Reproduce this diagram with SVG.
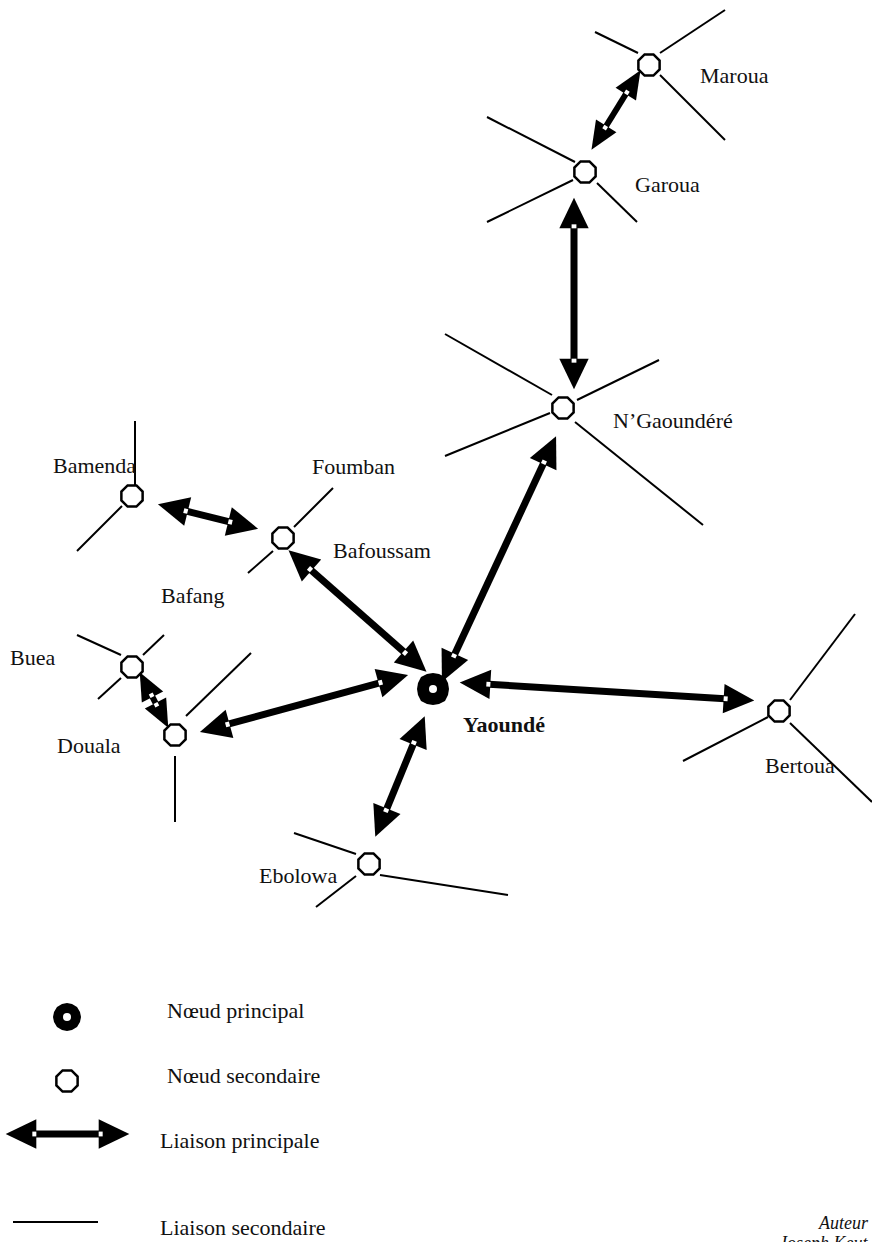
<svg xmlns="http://www.w3.org/2000/svg" width="872" height="1242" viewBox="0 0 872 1242">
<style>
.t{font-family:"Liberation Serif","Times New Roman",serif;font-size:22px;fill:#111}
.b{font-weight:bold}
.i{font-style:italic;font-size:18px}
.sl{stroke:#000;stroke-width:2;fill:none;stroke-linecap:butt}
.pl{stroke:#000;stroke-width:7;fill:none;marker-start:url(#ah);marker-end:url(#ah)}
.ps{stroke:#000;stroke-width:6;fill:none;marker-start:url(#as);marker-end:url(#as)}
.sn{fill:#fff;stroke:#000;stroke-width:2.5}
</style>
<defs>
<marker id="ah" markerUnits="userSpaceOnUse" orient="auto-start-reverse" refX="0" refY="0" markerWidth="40" markerHeight="40" viewBox="-4 -14 30 28" overflow="visible">
<path d="M-1,-11 L22,0 L-1,11 Z" fill="#000"/>
<rect x="-1" y="-1.8" width="3" height="3.6" fill="#fff"/>
</marker>
<marker id="as" markerUnits="userSpaceOnUse" orient="auto-start-reverse" refX="0" refY="0" markerWidth="40" markerHeight="40" viewBox="-4 -14 30 28" overflow="visible">
<path d="M-1,-9 L20,0 L-1,9 Z" fill="#000"/>
<rect x="-1" y="-1.6" width="3" height="3.2" fill="#fff"/>
</marker>
<polygon id="oct" points="4.40,-10.62 10.62,-4.40 10.62,4.40 4.40,10.62 -4.40,10.62 -10.62,4.40 -10.62,-4.40 -4.40,-10.62"/>
</defs>
<rect width="872" height="1242" fill="#fff"/>

<g id="connectors">
<g id="secondary-links">
<line class="sl" x1="660" y1="53" x2="725" y2="10"/>
<line class="sl" x1="595" y1="32" x2="638" y2="53"/>
<line class="sl" x1="660" y1="75" x2="725" y2="140"/>
<line class="sl" x1="487" y1="117" x2="575" y2="162"/>
<line class="sl" x1="573" y1="180" x2="487" y2="222"/>
<line class="sl" x1="597" y1="183" x2="637" y2="222"/>
<line class="sl" x1="445" y1="334" x2="552" y2="395"/>
<line class="sl" x1="577" y1="400" x2="659" y2="360"/>
<line class="sl" x1="550" y1="413" x2="445" y2="456"/>
<line class="sl" x1="575" y1="422" x2="703" y2="525"/>
<line class="sl" x1="135" y1="421" x2="135" y2="485"/>
<line class="sl" x1="122" y1="506" x2="77" y2="551"/>
<line class="sl" x1="294" y1="527" x2="333" y2="488"/>
<line class="sl" x1="273" y1="551" x2="248" y2="573"/>
<line class="sl" x1="77" y1="635" x2="121" y2="655"/>
<line class="sl" x1="143" y1="655" x2="164" y2="635"/>
<line class="sl" x1="121" y1="678" x2="98" y2="699"/>
<line class="sl" x1="186" y1="716" x2="251" y2="653"/>
<line class="sl" x1="175" y1="756" x2="175" y2="822"/>
<line class="sl" x1="790" y1="700" x2="855" y2="614"/>
<line class="sl" x1="768" y1="717" x2="683" y2="761"/>
<line class="sl" x1="790" y1="723" x2="872" y2="802"/>
<line class="sl" x1="356" y1="854" x2="294" y2="833"/>
<line class="sl" x1="356" y1="876" x2="316" y2="907"/>
<line class="sl" x1="380" y1="875" x2="508" y2="895"/>
</g>
<g id="principal-links">
<line class="ps" x1="626.5" y1="93" x2="605.5" y2="127"/>
<line class="pl" x1="574" y1="227" x2="574" y2="360"/>
<line class="pl" x1="543.7" y1="462.9" x2="454.3" y2="655.1"/>
<line class="pl" x1="310.5" y1="569.6" x2="404.5" y2="652.4"/>
<line class="pl" x1="186.4" y1="511.2" x2="229.6" y2="521.8"/>
<line class="ps" x1="151.9" y1="695.9" x2="156.1" y2="704.1"/>
<line class="pl" x1="228.2" y1="724.2" x2="379.8" y2="682.8"/>
<line class="pl" x1="489" y1="684.3" x2="725" y2="698.7"/>
<line class="pl" x1="413.6" y1="743.3" x2="386.4" y2="809.7"/>
</g>
</g>

<g id="maroua"><use href="#oct" class="sn" x="649" y="65"/><text class="t" x="700" y="83">Maroua</text></g>
<g id="garoua"><use href="#oct" class="sn" x="585" y="172"/><text class="t" x="635" y="192">Garoua</text></g>
<g id="ngaoundere"><use href="#oct" class="sn" x="563" y="408"/><text class="t" x="613" y="428">N’Gaoundéré</text></g>
<g id="bamenda"><use href="#oct" class="sn" x="132" y="496"/><text class="t" x="53" y="473">Bamenda</text></g>
<g id="bafoussam"><use href="#oct" class="sn" x="283" y="538"/><text class="t" x="333" y="558">Bafoussam</text></g>
<g id="foumban"><text class="t" x="312" y="474">Foumban</text></g>
<g id="bafang"><text class="t" x="161" y="603">Bafang</text></g>
<g id="buea"><use href="#oct" class="sn" x="132" y="667"/><text class="t" x="10" y="665">Buea</text></g>
<g id="douala"><use href="#oct" class="sn" x="175" y="735"/><text class="t" x="57" y="753">Douala</text></g>
<g id="yaounde">
<polygon fill="#000" points="433,673 439,674 445,677 448,683 449,689 448,695 445,701 439,704 433,705 427,704 421,701 418,695 417,689 418,683 421,677 427,674"/>
<circle cx="433" cy="689" r="4" fill="#fff"/>
<text class="t b" x="463" y="732">Yaoundé</text>
</g>
<g id="bertoua"><use href="#oct" class="sn" x="779" y="711"/><text class="t" x="765" y="773">Bertoua</text></g>
<g id="ebolowa"><use href="#oct" class="sn" x="369" y="864"/><text class="t" x="259" y="883">Ebolowa</text></g>

<g id="legend">
<g id="legend-main">
<polygon fill="#000" points="67,1003 72,1004 77,1007 80,1012 81,1017 80,1022 77,1027 72,1030 67,1031 62,1030 57,1027 54,1022 53,1017 54,1012 57,1007 62,1004"/>
<circle cx="67" cy="1017" r="4" fill="#fff"/>
<text class="t" x="167" y="1018">Nœud principal</text>
</g>
<g id="legend-secondary">
<use href="#oct" class="sn" x="67" y="1081"/>
<text class="t" x="167" y="1083">Nœud secondaire</text>
</g>
<g id="legend-principal-link">
<line class="pl" x1="35" y1="1134" x2="100" y2="1134"/>
<text class="t" x="160" y="1148">Liaison principale</text>
</g>
<g id="legend-secondary-link">
<line class="sl" x1="13" y1="1222" x2="98" y2="1222"/>
<text class="t" x="160" y="1235">Liaison secondaire</text>
</g>
</g>

<g id="credit">
<text class="t i" x="819" y="1229">Auteur</text>
<text class="t i" x="779" y="1249">Joseph Keut</text>
</g>
</svg>
